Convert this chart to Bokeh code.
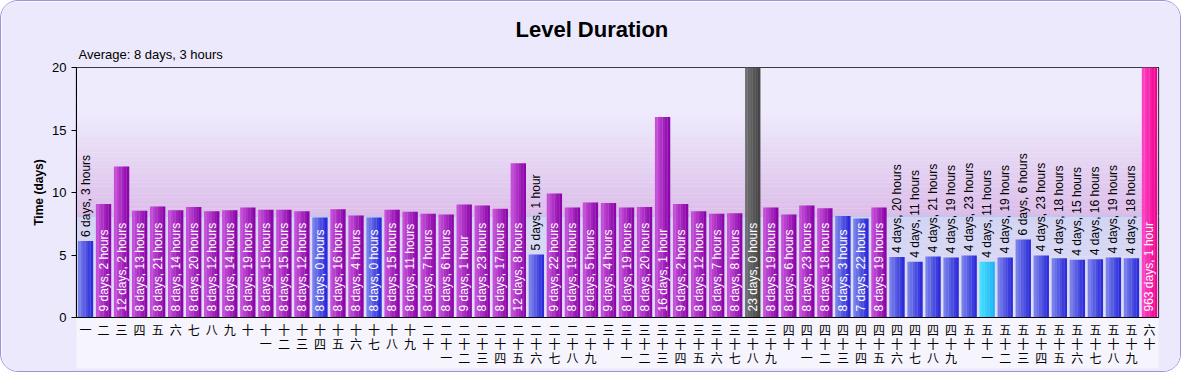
import math
from bokeh.plotting import figure
from bokeh.models import (FactorRange, FixedTicker, Span, BoxAnnotation, Title, ColumnDataSource,
                          CategoricalAxis, CustomJSTickFormatter)
from bokeh.transform import dodge
from bokeh.embed import file_html
from bokeh.resources import INLINE
from bokeh.core.properties import value

# ---------------- data ----------------
cats = ["一", "二", "三", "四", "五", "六", "七", "八", "九", "十",
        "十一", "十二", "十三", "十四", "十五", "十六", "十七", "十八", "十九", "二十",
        "二十一", "二十二", "二十三", "二十四", "二十五", "二十六", "二十七", "二十八", "二十九", "三十",
        "三十一", "三十二", "三十三", "三十四", "三十五", "三十六", "三十七", "三十八", "三十九", "四十",
        "四十一", "四十二", "四十三", "四十四", "四十五", "四十六", "四十七", "四十八", "四十九", "五十",
        "五十一", "五十二", "五十三", "五十四", "五十五", "五十六", "五十七", "五十八", "五十九", "六十"]

days = [6, 9, 12, 8, 8, 8, 8, 8, 8, 8,
        8, 8, 8, 8, 8, 8, 8, 8, 8, 8,
        8, 9, 8, 8, 12, 5, 9, 8, 9, 9,
        8, 8, 16, 9, 8, 8, 8, 23, 8, 8,
        8, 8, 8, 7, 8, 4, 4, 4, 4, 4,
        4, 4, 6, 4, 4, 4, 4, 4, 4, 963]

hours = [3, 2, 2, 13, 21, 14, 20, 12, 14, 19,
         15, 15, 12, 0, 16, 4, 0, 15, 11, 7,
         6, 1, 23, 17, 8, 1, 22, 19, 5, 4,
         19, 20, 1, 2, 12, 7, 8, 0, 19, 6,
         23, 18, 3, 22, 19, 20, 11, 21, 19, 23,
         11, 19, 6, 23, 18, 15, 16, 19, 18, 1]

# bar highlight kind: b = below average, p = above average, g = longest, c = shortest, k = current
kinds = ["b", "p", "p", "p", "p", "p", "p", "p", "p", "p",
         "p", "p", "p", "b", "p", "p", "b", "p", "p", "p",
         "p", "p", "p", "p", "p", "b", "p", "p", "p", "p",
         "p", "p", "p", "p", "p", "p", "p", "g", "p", "p",
         "p", "p", "b", "b", "p", "b", "b", "b", "b", "b",
         "c", "b", "b", "b", "b", "b", "b", "b", "b", "k"]

avg_days, avg_hours = 8, 3
y_ticks = [0, 5, 10, 15, 20]

title_text = "Level Duration"
y_label = "Time (days)"

# ---------------- derived ----------------
values = [d + h / 24.0 for d, h in zip(days, hours)]
avg = avg_days + avg_hours / 24.0


def dur_text(d, h):
    return f"{d} days, {h} hour" + ("" if h == 1 else "s")


labels = [dur_text(d, h) for d, h in zip(days, hours)]
avg_text = "Average: " + dur_text(avg_days, avg_hours)

grad = {
    "p": ("#cc55dc", "#8600a6"),
    "b": ("#8088ec", "#2424d8"),
    "g": ("#727272", "#424242"),
    "c": ("#48e4ff", "#1cb0f6"),
    "k": ("#ff48cc", "#ee0088"),
}


def hx(c):
    return tuple(int(c[i:i + 2], 16) for i in (1, 3, 5))


def mix(c1, c2, t):
    a, b = hx(c1), hx(c2)
    return "#%02x%02x%02x" % tuple(round(a[i] + (b[i] - a[i]) * t) for i in range(3))


# ---------------- figure ----------------
p = figure(x_range=FactorRange(factors=cats, range_padding=0), y_range=(0, 20),
           width=1181, height=372, output_backend="svg", toolbar_location=None,
           min_border_left=75, min_border_right=24, min_border_top=66, min_border_bottom=56)
p.border_fill_color = "#ebe9fb"
p.background_fill_color = "#eeebfc"
p.outline_line_color = "black"
p.outline_line_width = 1.2
p.grid.visible = False

# background gradient (decorative)
top_c, mid_c = "#eeebfc", "#dcbce9"
n = 40
for i in range(n):
    y0 = avg + (20 - avg) * i / n
    y1 = avg + (20 - avg) * (i + 1) / n
    t = min(1.0, (i + 0.5) / n / 0.7)
    p.add_layout(BoxAnnotation(bottom=y0, top=y1 + 0.01, fill_color=mix(mid_c, top_c, t),
                               fill_alpha=1, line_color=None, level="underlay"))
lo_top, lo_bot = "#d3d3f3", "#e0e0f8"
m = 20
for i in range(m):
    y0 = avg * i / m
    y1 = avg * (i + 1) / m
    t = (i + 0.5) / m
    p.add_layout(BoxAnnotation(bottom=y0, top=y1 + 0.01, fill_color=mix(lo_bot, lo_top, t),
                               fill_alpha=1, line_color=None, level="underlay"))
p.add_layout(Span(location=avg, dimension="width", line_color="#c2c6ec", line_width=2, level="underlay"))

# bars with horizontal gradient, drawn as strips
strips = 6
bar_w = 0.84
sw = bar_w / strips
for i in range(strips):
    t = (i + 0.5) / strips
    colors = [mix(grad[k][0], grad[k][1], t) for k in kinds]
    src = ColumnDataSource(dict(cat=cats, top=values, color=colors))
    p.vbar(x=dodge("cat", -bar_w / 2 + sw * (i + 0.5), range=p.x_range), top="top",
           width=sw * 1.08, fill_color="color", line_color=None, source=src)

# value labels
inside = [v >= 7.5 for v in values]
lsrc = ColumnDataSource(dict(
    cat=cats,
    y=[0 if ins else v for ins, v in zip(inside, values)],
    text=labels,
    color=["white" if ins else "black" for ins in inside],
    yoff=[-6 if ins else -4 for ins in inside],
))
p.text(x="cat", y="y", text="text", source=lsrc, angle=math.pi / 2, text_align="left",
       text_baseline="middle", text_color="color", y_offset="yoff",
       text_font=value("Liberation Sans"), text_font_size="12px")

# axes
p.yaxis.ticker = FixedTicker(ticks=y_ticks)
p.yaxis.minor_tick_line_color = None
p.yaxis.major_tick_in = 0
p.yaxis.major_tick_out = 5
p.yaxis.major_label_text_font = "Liberation Sans"
p.yaxis.major_label_text_font_size = "13px"
p.yaxis.major_label_text_color = "black"
p.yaxis.axis_line_color = "black"
p.yaxis.axis_label = y_label
p.yaxis.axis_label_text_font = "Liberation Sans"
p.yaxis.axis_label_text_font_style = "bold"
p.yaxis.axis_label_text_font_size = "12px"
p.yaxis.axis_label_text_color = "black"
p.yaxis.axis_label_standoff = 3


def style_x(ax, row, first):
    # each axis shows one character of the (vertically written) category name
    ax.formatter = CustomJSTickFormatter(args=dict(row=row), code="""
        const s = Array.from(String(tick));
        return s.length > row ? s[row] : " ";
    """)
    ax.major_tick_line_color = None
    ax.major_tick_out = 0
    ax.major_tick_in = 0
    ax.axis_line_color = "black" if first else None
    ax.major_label_text_font = "Noto Sans CJK SC"
    ax.major_label_text_font_size = "12px"
    ax.major_label_text_color = "black"
    ax.major_label_standoff = 3 if first else -6
    ax.background_fill_color = "#f6f5fd"


style_x(p.xaxis[0], 0, True)
for r in (1, 2):
    ax = CategoricalAxis()
    style_x(ax, r, False)
    p.add_layout(ax, "below")

# titles
p.add_layout(Title(text=avg_text, align="left", text_font="Liberation Sans",
                   text_font_size="13px", text_font_style="normal", text_color="black",
                   offset=2, standoff=12), "above")
p.add_layout(Title(text=title_text, align="left", text_font="Liberation Sans",
                   text_font_size="22px", text_font_style="bold", text_color="black",
                   offset=439, standoff=-6), "above")

p.styles = {"border": "1px solid #9a94da", "border-radius": "18px", "overflow": "hidden"}

open("out.html", "w").write(file_html(p, INLINE))
